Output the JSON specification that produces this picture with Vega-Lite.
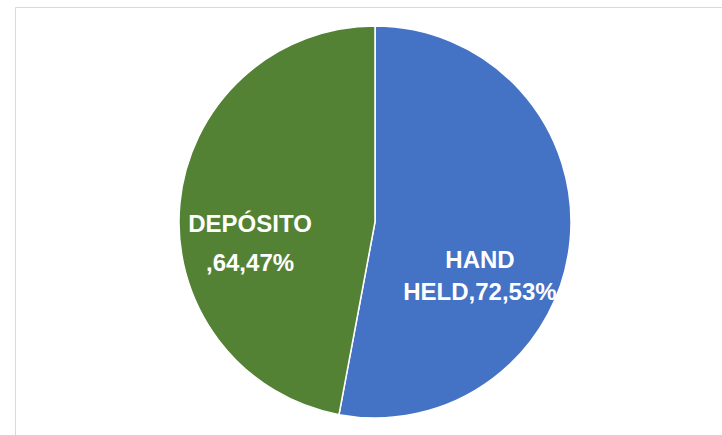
{
  "$schema": "https://vega.github.io/schema/vega-lite/v6.json",
  "width": 720,
  "height": 430,
  "padding": {"left": 15, "top": 7, "right": -13, "bottom": -2},
  "background": "white",
  "view": {"stroke": "#d9d9d9", "strokeWidth": 1},
  "data": {
    "values": [
      {"category": "HAND HELD", "value": 72, "label": ["HAND", "HELD,72,53%"]},
      {"category": "DEPÓSITO", "value": 64, "label": ["DEPÓSITO", ",64,47%"]}
    ]
  },
  "encoding": {
    "theta": {"field": "value", "type": "quantitative", "stack": true},
    "order": {"field": "category", "sort": "descending"}
  },
  "layer": [
    {
      "mark": {"type": "arc", "outerRadius": 196, "stroke": "white", "strokeWidth": 1.5},
      "encoding": {
        "color": {
          "field": "category",
          "type": "nominal",
          "scale": {"domain": ["HAND HELD", "DEPÓSITO"], "range": ["#4472C4", "#548235"]},
          "legend": null
        }
      }
    },
    {
      "mark": {"type": "text", "radius": 125.5, "dy": 15, "font": "Liberation Sans", "fontSize": 24, "fontWeight": "bold", "fill": "white", "lineHeight": 39, "align": "center", "baseline": "middle"},
      "encoding": {
        "text": {"field": "label"},
        "opacity": {"condition": {"test": "datum.category === 'DEPÓSITO'", "value": 1}, "value": 0}
      }
    },
    {
      "mark": {"type": "text", "radius": 105.4, "dy": 29, "font": "Liberation Sans", "fontSize": 24, "fontWeight": "bold", "fill": "white", "lineHeight": 32, "align": "center", "baseline": "middle"},
      "encoding": {
        "text": {"field": "label"},
        "opacity": {"condition": {"test": "datum.category === 'HAND HELD'", "value": 1}, "value": 0}
      }
    }
  ]
}
